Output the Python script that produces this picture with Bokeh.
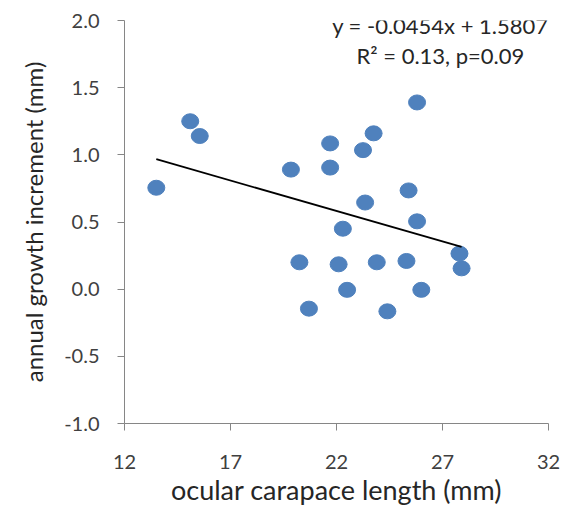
from bokeh.plotting import figure
from bokeh.models import Range1d, FixedTicker, Label, ColumnDataSource, CustomJSTickFormatter
from bokeh.embed import file_html
from bokeh.resources import INLINE

# data
carapace_length = [13.5, 15.1, 15.55, 19.85, 21.7, 21.7, 20.25, 20.7,
                   25.8, 23.75, 23.25, 25.4, 23.35, 25.8, 22.3, 22.1,
                   23.9, 25.3, 27.8, 27.9, 22.5, 26.0, 24.4]
growth_increment = [0.755, 1.25, 1.14, 0.89, 1.085, 0.905, 0.20, -0.145,
                    1.39, 1.16, 1.035, 0.735, 0.645, 0.505, 0.45, 0.185,
                    0.20, 0.21, 0.265, 0.155, -0.005, -0.005, -0.165]
slope = -0.0454
intercept = 1.5807
x_ticks = [12, 17, 22, 27, 32]
y_ticks = [-1.0, -0.5, 0.0, 0.5, 1.0, 1.5, 2.0]
eq_text = "y = -0.0454x + 1.5807"
stat_text = "R\u00b2 = 0.13, p=0.09"
x_title = "ocular carapace length (mm)"
y_title = "annual growth increment (mm)"

FONT = "Lato"
AXIS_GREY = "#868686"
BLUE = "#4F81BD"
TEXT = "#262626"

p = figure(width=563, height=510, output_backend="svg", toolbar_location=None,
           x_range=Range1d(12, 32), y_range=Range1d(-1.0, 2.0),
           min_border_left=124, min_border_right=15, min_border_top=20,
           min_border_bottom=87)
p.outline_line_color = None
p.grid.visible = False
p.background_fill_color = "white"
p.border_fill_color = "white"

for ax in (p.xaxis[0], p.yaxis[0]):
    ax.axis_line_color = AXIS_GREY
    ax.major_tick_line_color = AXIS_GREY
    ax.minor_tick_line_color = None
    ax.major_tick_in = 0
    ax.major_tick_out = 7
    ax.major_label_text_font = FONT
    ax.major_label_text_font_size = "20px"
    ax.major_label_text_color = "#404040"
    ax.axis_label_text_font = FONT
    ax.axis_label_text_font_style = "normal"
    ax.axis_label_text_color = TEXT

p.xaxis.ticker = FixedTicker(ticks=x_ticks)
p.yaxis.ticker = FixedTicker(ticks=y_ticks)
p.yaxis.formatter = CustomJSTickFormatter(code="return tick.toFixed(1);")
p.xaxis.major_label_standoff = 24
p.yaxis.major_label_standoff = 18
p.xaxis.axis_label = x_title
p.yaxis.axis_label = y_title
p.xaxis.axis_label_text_font_size = "27px"
p.yaxis.axis_label_text_font_size = "24px"
p.xaxis.axis_label_standoff = 1
p.yaxis.axis_label_standoff = 13

src = ColumnDataSource(dict(x=carapace_length, y=growth_increment))
p.ellipse(x="x", y="y", width=17, height=15, width_units="screen",
          height_units="screen", source=src, fill_color=BLUE,
          line_color=BLUE, line_width=1)

x0, x1 = min(carapace_length), max(carapace_length)
p.line([x0, x1], [slope * x0 + intercept, slope * x1 + intercept],
       line_color="black", line_width=1.8)

p.add_layout(Label(x=26.9, y=1.963, text=eq_text, text_align="center",
                   text_baseline="middle", text_font=FONT,
                   text_font_size="22px", text_color=TEXT))
p.add_layout(Label(x=26.9, y=1.739, text=stat_text, text_align="center",
                   text_baseline="middle", text_font=FONT,
                   text_font_size="22px", text_color=TEXT))

open("out.html", "w").write(file_html(p, INLINE))
